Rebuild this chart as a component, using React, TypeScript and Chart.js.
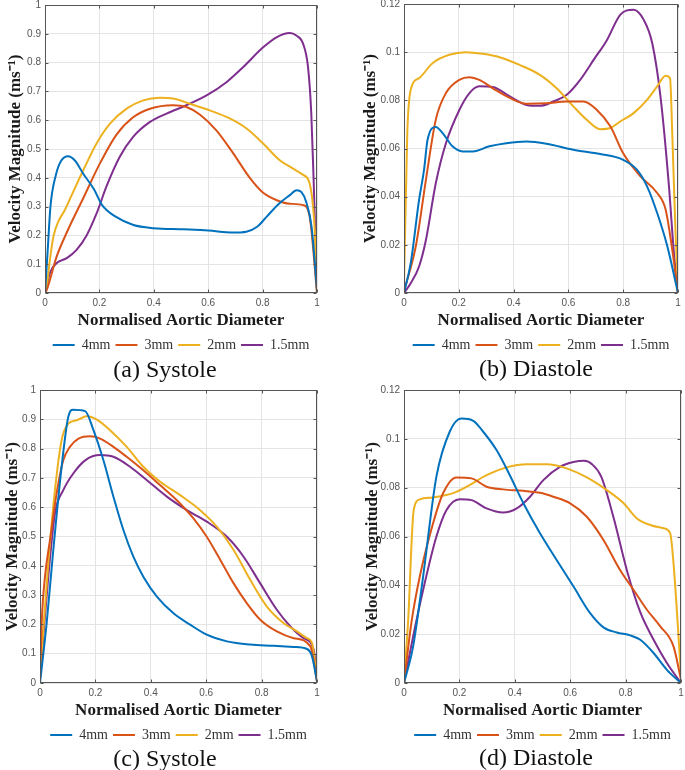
import React, { useEffect, useRef } from "react";
import { Chart, registerables } from "chart.js";

Chart.register(...registerables);

// ---------- shared labels ----------
const SERIES_LABELS = ["4mm", "3mm", "2mm", "1.5mm"];
const SERIES_COLORS = ["#0072BD", "#D95319", "#EDB120", "#7E2F8E"];
const X_TITLE_A = "Normalised Aortic Diameter";
const X_TITLE_D = "Normalised Aortic Diamter";
const Y_TITLE = "Velocity Magnitude (ms\u207B\u00B9)";
const CAPTIONS = ["(a) Systole", "(b) Diastole", "(c) Systole", "(d) Diastole"];

// ---------- panel (a) Systole ----------
const a4x = [0, 0.01, 0.02, 0.04, 0.06, 0.085, 0.11, 0.14, 0.18, 0.21, 0.26, 0.325, 0.4, 0.51, 0.6, 0.69, 0.74, 0.78, 0.815, 0.86, 0.9, 0.925, 0.943, 0.96, 0.98, 1.0];
const a4y = [0, 0.15, 0.3, 0.41, 0.46, 0.475, 0.46, 0.415, 0.36, 0.305, 0.265, 0.236, 0.225, 0.221, 0.217, 0.21, 0.213, 0.23, 0.265, 0.31, 0.34, 0.357, 0.35, 0.317, 0.23, 0.01];
const a3x = [0, 0.006, 0.043, 0.08, 0.141, 0.202, 0.263, 0.324, 0.386, 0.471, 0.52, 0.569, 0.63, 0.692, 0.753, 0.8, 0.85, 0.9, 0.949, 0.973, 1];
const a3y = [0, 0.01, 0.127, 0.21, 0.33, 0.45, 0.55, 0.61, 0.64, 0.652, 0.646, 0.62, 0.565, 0.485, 0.4, 0.35, 0.323, 0.31, 0.305, 0.265, 0];
const a2x = [0, 0.006, 0.018, 0.031, 0.049, 0.073, 0.104, 0.141, 0.19, 0.239, 0.3, 0.361, 0.422, 0.471, 0.533, 0.606, 0.679, 0.741, 0.802, 0.863, 0.912, 0.949, 0.973, 0.991, 1];
const a2y = [0, 0.02, 0.115, 0.196, 0.248, 0.288, 0.352, 0.427, 0.52, 0.588, 0.64, 0.669, 0.678, 0.675, 0.657, 0.634, 0.606, 0.571, 0.519, 0.461, 0.432, 0.41, 0.38, 0.23, 0.02];
const a15x = [0, 0.018, 0.043, 0.08, 0.116, 0.153, 0.19, 0.226, 0.275, 0.324, 0.386, 0.447, 0.52, 0.594, 0.667, 0.728, 0.802, 0.851, 0.9, 0.924, 0.949, 0.967, 0.979, 0.988, 1];
const a15y = [0, 0.07, 0.104, 0.121, 0.15, 0.2, 0.277, 0.37, 0.473, 0.542, 0.594, 0.623, 0.652, 0.686, 0.732, 0.784, 0.853, 0.888, 0.903, 0.894, 0.865, 0.784, 0.623, 0.38, 0.01];

// ---------- panel (b) Diastole ----------
const b4x = [0, 0.0245, 0.055, 0.073, 0.086, 0.116, 0.141, 0.177, 0.214, 0.251, 0.312, 0.373, 0.447, 0.52, 0.618, 0.716, 0.8, 0.85, 0.887, 0.924, 0.961, 1];
const b4y = [0, 0.0124, 0.0387, 0.051, 0.0636, 0.0689, 0.0664, 0.0609, 0.0588, 0.0588, 0.0609, 0.0622, 0.0629, 0.062, 0.0595, 0.0577, 0.0553, 0.0512, 0.0443, 0.0332, 0.0194, 0];
const b3x = [0, 0.043, 0.08, 0.116, 0.153, 0.202, 0.239, 0.275, 0.324, 0.386, 0.447, 0.52, 0.594, 0.655, 0.704, 0.753, 0.8, 0.863, 0.924, 0.955, 0.979, 1];
const b3y = [0.0007, 0.0194, 0.047, 0.072, 0.083, 0.0885, 0.0896, 0.0885, 0.085, 0.081, 0.0786, 0.0788, 0.0795, 0.0795, 0.076, 0.0692, 0.058, 0.0484, 0.0415, 0.0346, 0.018, 0];
const b2x = [0, 0.012, 0.0245, 0.055, 0.104, 0.165, 0.226, 0.288, 0.349, 0.422, 0.496, 0.557, 0.618, 0.667, 0.716, 0.753, 0.789, 0.838, 0.887, 0.924, 0.955, 0.971, 0.979, 0.991, 1];
const b2y = [0.0028, 0.0664, 0.0844, 0.0892, 0.0954, 0.0989, 0.1, 0.0993, 0.0979, 0.0947, 0.0906, 0.085, 0.0775, 0.0719, 0.068, 0.0685, 0.0712, 0.0747, 0.0802, 0.0858, 0.0902, 0.0892, 0.0664, 0.0249, 0.0014];
const b15x = [0, 0.0245, 0.055, 0.08, 0.116, 0.153, 0.202, 0.239, 0.275, 0.324, 0.386, 0.447, 0.496, 0.545, 0.594, 0.643, 0.692, 0.741, 0.789, 0.838, 0.875, 0.906, 0.936, 0.967, 0.985, 1];
const b15y = [0, 0.0041, 0.011, 0.022, 0.0456, 0.0622, 0.076, 0.083, 0.0858, 0.0855, 0.0816, 0.0781, 0.0777, 0.0795, 0.0823, 0.0885, 0.0968, 0.1051, 0.1155, 0.1176, 0.1134, 0.1037, 0.0816, 0.0443, 0.0166, 0];

// ---------- panel (c) Systole ----------
const c4x = [0, 0.024, 0.048, 0.078, 0.102, 0.12, 0.163, 0.193, 0.229, 0.265, 0.301, 0.337, 0.373, 0.422, 0.482, 0.542, 0.602, 0.675, 0.759, 0.843, 0.916, 0.964, 0.982, 1];
const c4y = [0, 0.204, 0.454, 0.738, 0.908, 0.933, 0.928, 0.863, 0.76, 0.636, 0.522, 0.431, 0.363, 0.295, 0.238, 0.199, 0.165, 0.142, 0.131, 0.127, 0.123, 0.116, 0.091, 0.006];
const c3x = [0, 0.006, 0.018, 0.036, 0.06, 0.084, 0.108, 0.139, 0.181, 0.217, 0.265, 0.313, 0.373, 0.434, 0.494, 0.554, 0.602, 0.651, 0.699, 0.747, 0.795, 0.855, 0.916, 0.976, 1];
const c3y = [0.01, 0.204, 0.363, 0.488, 0.647, 0.76, 0.806, 0.834, 0.842, 0.834, 0.806, 0.772, 0.726, 0.675, 0.624, 0.562, 0.499, 0.42, 0.34, 0.272, 0.216, 0.176, 0.153, 0.125, 0.006];
const c2x = [0, 0.012, 0.03, 0.054, 0.078, 0.102, 0.133, 0.169, 0.205, 0.253, 0.313, 0.373, 0.434, 0.506, 0.578, 0.639, 0.699, 0.759, 0.819, 0.88, 0.928, 0.964, 0.982, 1];
const c2y = [0.023, 0.18, 0.409, 0.658, 0.829, 0.885, 0.897, 0.91, 0.899, 0.863, 0.806, 0.738, 0.687, 0.641, 0.59, 0.533, 0.454, 0.352, 0.261, 0.204, 0.176, 0.153, 0.136, 0.012];
const c15x = [0, 0.012, 0.03, 0.054, 0.084, 0.12, 0.163, 0.217, 0.265, 0.325, 0.386, 0.458, 0.53, 0.602, 0.675, 0.735, 0.795, 0.855, 0.904, 0.952, 0.988, 1];
const c15y = [0.023, 0.159, 0.363, 0.579, 0.658, 0.715, 0.76, 0.778, 0.772, 0.738, 0.692, 0.636, 0.59, 0.551, 0.499, 0.431, 0.34, 0.25, 0.193, 0.153, 0.114, 0.012];

// ---------- panel (d) Diastole ----------
const d4x = [0, 0.033, 0.069, 0.117, 0.165, 0.207, 0.25, 0.286, 0.334, 0.382, 0.431, 0.491, 0.551, 0.612, 0.672, 0.72, 0.768, 0.817, 0.853, 0.901, 0.949, 1];
const d4y = [0, 0.015, 0.0436, 0.0845, 0.1029, 0.1083, 0.1074, 0.1029, 0.0954, 0.0851, 0.0736, 0.0613, 0.0504, 0.0395, 0.0286, 0.0228, 0.0207, 0.0195, 0.0177, 0.0123, 0.0054, 0];
const d3x = [0, 0.0265, 0.057, 0.105, 0.141, 0.189, 0.244, 0.298, 0.358, 0.431, 0.491, 0.539, 0.6, 0.66, 0.72, 0.78, 0.829, 0.877, 0.925, 0.973, 1];
const d3y = [0, 0.0245, 0.0436, 0.0654, 0.0777, 0.0842, 0.0838, 0.0804, 0.0793, 0.0787, 0.0779, 0.0763, 0.0736, 0.0681, 0.0586, 0.0463, 0.0381, 0.03, 0.0232, 0.015, 0.0014];
const d2x = [0, 0.0145, 0.035, 0.057, 0.105, 0.153, 0.189, 0.238, 0.298, 0.37, 0.443, 0.515, 0.587, 0.66, 0.732, 0.793, 0.841, 0.889, 0.937, 0.961, 0.973, 0.988, 1];
const d2y = [0.0014, 0.0245, 0.0708, 0.0752, 0.076, 0.077, 0.0783, 0.0811, 0.0851, 0.0883, 0.0896, 0.0896, 0.0879, 0.0842, 0.079, 0.0736, 0.0674, 0.0647, 0.0634, 0.0613, 0.049, 0.0245, 0.0027];
const d15x = [0, 0.033, 0.069, 0.117, 0.153, 0.201, 0.244, 0.298, 0.358, 0.407, 0.455, 0.503, 0.563, 0.612, 0.65, 0.68, 0.712, 0.756, 0.805, 0.853, 0.901, 0.949, 1];
const d15y = [0, 0.0191, 0.0381, 0.06, 0.0708, 0.0753, 0.0749, 0.0715, 0.0698, 0.0715, 0.0763, 0.0831, 0.0885, 0.0905, 0.091, 0.0895, 0.0845, 0.068, 0.046, 0.029, 0.0177, 0.0082, 0];

// ---------- axis ranges ----------
const X_MIN = 0, X_MAX = 1, X_STEP = 0.2;
const Y_MAX_SYS = 1, Y_STEP_SYS = 0.1;
const Y_MAX_DIA = 0.12, Y_STEP_DIA = 0.02;

const fmtTick = (v: any) => String(parseFloat(Number(v).toFixed(4)));

const framePlugin = {
  id: "frame",
  afterDraw(chart: any) {
    const { ctx, chartArea: a, scales } = chart;
    const l = Math.round(a.left) + 0.5;
    const r = Math.round(a.right) - 0.5;
    const t = Math.round(a.top) + 0.5;
    const b = Math.round(a.bottom) - 0.5;
    ctx.save();
    ctx.strokeStyle = "#555555";
    ctx.lineWidth = 1;
    ctx.strokeRect(l, t, r - l, b - t);
    ctx.beginPath();
    const tl = 3;
    scales.x.ticks.forEach((tk: any) => {
      const px = Math.round(scales.x.getPixelForValue(tk.value)) + 0.5;
      ctx.moveTo(px, b); ctx.lineTo(px, b - tl);
      ctx.moveTo(px, t); ctx.lineTo(px, t + tl);
    });
    scales.y.ticks.forEach((tk: any) => {
      const py = Math.round(scales.y.getPixelForValue(tk.value)) + 0.5;
      ctx.moveTo(l, py); ctx.lineTo(l + tl, py);
      ctx.moveTo(r, py); ctx.lineTo(r - tl, py);
    });
    ctx.stroke();
    ctx.restore();
  },
};

type PanelProps = {
  left: number; top: number; width: number; height: number;
  padTop: number; padRight: number; yAxisWidth: number; yTitlePad: number;
  yMax: number; yStep: number; xTitle: string;
  xs: number[][]; ys: number[][];
};

function Panel(p: PanelProps) {
  const ref = useRef<HTMLCanvasElement>(null);
  useEffect(() => {
    const canvas = ref.current;
    if (!canvas) return;
    const datasets = p.xs.map((xs, i) => ({
      label: SERIES_LABELS[i],
      data: xs.map((x, j) => ({ x, y: p.ys[i][j] })),
      borderColor: SERIES_COLORS[i],
      backgroundColor: SERIES_COLORS[i],
      borderWidth: 2,
      pointRadius: 0,
      pointHoverRadius: 0,
      cubicInterpolationMode: "monotone" as const,
      fill: false,
    }));
    const tickFont = { family: "'Liberation Sans', Arial, sans-serif", size: 10 };
    const titleFont = { family: "'Liberation Serif', 'Times New Roman', serif", size: 17, weight: "bold" as const };
    const chart = new Chart(canvas, {
      type: "line",
      data: { datasets },
      options: {
        animation: false,
        responsive: false,
        maintainAspectRatio: false,
        events: [],
        layout: { padding: { left: 0, top: p.padTop, right: p.padRight, bottom: 0 } },
        scales: {
          x: {
            type: "linear",
            min: X_MIN,
            max: X_MAX,
            ticks: { stepSize: X_STEP, padding: 4, font: tickFont, color: "#555", maxRotation: 0, autoSkip: false, callback: fmtTick },
            grid: { color: "#e4e4e4", drawTicks: false },
            border: { display: false },
            title: { display: true, text: p.xTitle, font: titleFont, color: "#1a1a1a", padding: { top: 0, bottom: 2 } },
            afterFit: (s: any) => { s.height = 40; s.paddingLeft = 0; s.paddingRight = 0; },
          },
          y: {
            type: "linear",
            min: 0,
            max: p.yMax,
            ticks: { stepSize: p.yStep, padding: 4, font: tickFont, color: "#555", autoSkip: false, callback: fmtTick },
            grid: { color: "#e4e4e4", drawTicks: false },
            border: { display: false },
            title: { display: true, text: Y_TITLE, font: titleFont, color: "#1a1a1a", padding: { top: p.yTitlePad, bottom: 0 } },
            afterFit: (s: any) => { s.width = p.yAxisWidth; s.paddingTop = 0; s.paddingBottom = 0; },
          },
        },
        plugins: {
          legend: {
            position: "bottom",
            fullSize: false,
            maxHeight: 28,
            labels: {
              usePointStyle: true,
              pointStyle: "line",
              pointStyleWidth: 22,
              padding: 5,
              color: "#333",
              font: { family: "'Liberation Serif', 'Times New Roman', serif", size: 14 },
            },
          },
          tooltip: { enabled: false },
        },
      } as any,
      plugins: [framePlugin],
    });
    return () => chart.destroy();
  }, []);
  return (
    <canvas
      ref={ref}
      width={p.width}
      height={p.height}
      style={{ position: "absolute", left: p.left, top: p.top, width: p.width, height: p.height }}
    />
  );
}

function Caption({ text, cx, cy }: { text: string; cx: number; cy: number }) {
  return (
    <div
      style={{
        position: "absolute",
        left: cx,
        top: cy,
        transform: "translate(-50%, -50%)",
        fontFamily: "'Liberation Serif', 'Times New Roman', serif",
        fontSize: 24,
        color: "#111",
        whiteSpace: "nowrap",
        lineHeight: 1,
      }}
    >
      {text}
    </div>
  );
}

export default function App() {
  return (
    <div style={{ position: "absolute", left: 0, top: 0, width: 685, height: 770, background: "#fff", overflow: "hidden" }}>
      <Panel left={0} top={0} width={322} height={361} padTop={5} padRight={5} yAxisWidth={45} yTitlePad={5}
        yMax={Y_MAX_SYS} yStep={Y_STEP_SYS} xTitle={X_TITLE_A}
        xs={[a4x, a3x, a2x, a15x]} ys={[a4y, a3y, a2y, a15y]} />
      <Panel left={340} top={0} width={345} height={361} padTop={4} padRight={7} yAxisWidth={64} yTitlePad={20}
        yMax={Y_MAX_DIA} yStep={Y_STEP_DIA} xTitle={X_TITLE_A}
        xs={[b4x, b3x, b2x, b15x]} ys={[b4y, b3y, b2y, b15y]} />
      <Panel left={0} top={385} width={322} height={366} padTop={5} padRight={5} yAxisWidth={40} yTitlePad={2}
        yMax={Y_MAX_SYS} yStep={Y_STEP_SYS} xTitle={X_TITLE_A}
        xs={[c4x, c3x, c2x, c15x]} ys={[c4y, c3y, c2y, c15y]} />
      <Panel left={340} top={385} width={345} height={366} padTop={5} padRight={4} yAxisWidth={64} yTitlePad={22}
        yMax={Y_MAX_DIA} yStep={Y_STEP_DIA} xTitle={X_TITLE_D}
        xs={[d4x, d3x, d2x, d15x]} ys={[d4y, d3y, d2y, d15y]} />
      <Caption text={CAPTIONS[0]} cx={165} cy={369} />
      <Caption text={CAPTIONS[1]} cx={536} cy={368} />
      <Caption text={CAPTIONS[2]} cx={165} cy={758} />
      <Caption text={CAPTIONS[3]} cx={536} cy={757} />
    </div>
  );
}
